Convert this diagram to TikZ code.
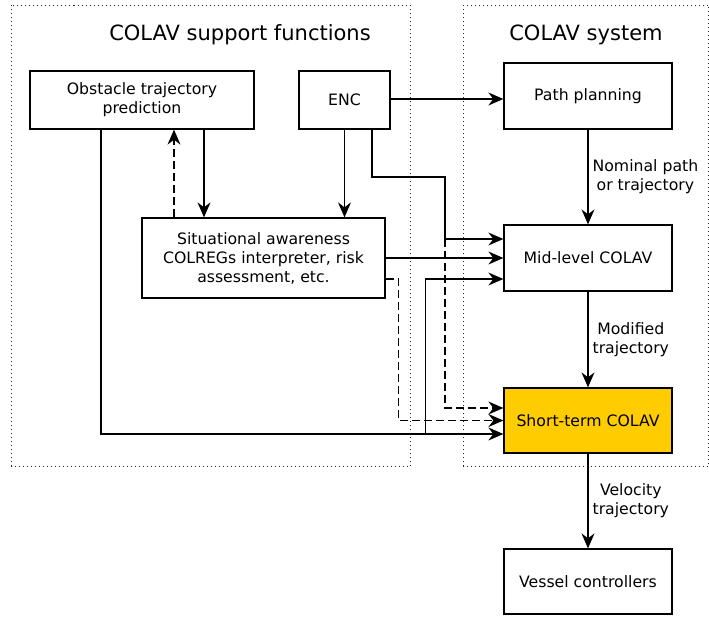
\documentclass[tikz,border=0pt]{standalone}
\usepackage{fontspec}
\setmainfont{DejaVu Sans}
\definecolor{StGold}{RGB}{255, 204, 0}
\usetikzlibrary{arrows.meta, positioning, calc}

\begin{document}
\begin{tikzpicture}[x=1pt, y=-1pt,
        box/.style={rectangle, draw=black, line width=1.3pt, fill=white, minimum width=168pt, minimum height=66pt, inner sep=2pt, align=center, font=\fontsize{15.7}{19}\selectfont},
        heading/.style={font=\fontsize{21}{25}\selectfont},
        lbl/.style={right, align=center, inner sep=4pt, font=\fontsize{15.7}{19}\selectfont},
        region/.style={draw=black!85, line width=1pt, dash pattern=on 1pt off 3pt},
        arrow/.style={->, line width=1.2pt, >={Stealth[length=15pt, width=13pt, inset=5pt]}},
        dasharrow/.style={arrow, dash pattern=on 8pt off 4pt}
    ]
        \useasboundingbox (0,0) rectangle (709,616);
        % dotted regions
        \draw[region] (11.5,5) rectangle (410,466);
        \draw[region] (463.5,5) rectangle (708.5,466);
        \node[heading] (suptitle) at (240,35) {COLAV support functions};
        \node[heading] (systitle) at (586,35) {COLAV system};
        % support functions
        \node[box, minimum width=224pt, minimum height=58pt] (obst) at (142,100) {Obstacle trajectory\\prediction};
        \node[box, minimum width=91pt, minimum height=58pt] (enc) at (344.5,100) {ENC};
        \node[box, minimum width=243pt, minimum height=80pt] (sa) at (263.5,258) {Situational awareness\\COLREGs interpreter, risk\\assessment, etc.};
        % COLAV system
        \node[box] (path) at (588,96) {Path planning};
        \node[box] (mid) at (588,258) {Mid-level COLAV};
        \node[box, fill=StGold, minimum height=65pt] (short) at (588,420.5) {Short-term COLAV};
        \node[box, minimum height=65pt] (vessel) at (588,581.5) {Vessel controllers};
        % inputs on the left side of mid-level and short-term
        \coordinate (m1) at ([yshift=19pt]mid.west);
        \coordinate (m3) at ([yshift=-21pt]mid.west);
        \coordinate (s1) at ([yshift=12.5pt]short.west);
        \coordinate (s3) at ([yshift=-13.5pt]short.west);
        \coordinate (bus) at (445,177);
        \coordinate (tap) at ($(s3)+(-78,0)$);
        \draw[arrow] (path) -- node[lbl] {Nominal path\\or trajectory} (mid);
        \draw[arrow] (mid) -- node[lbl] {Modified\\trajectory} (short);
        \draw[arrow] (short) -- node[lbl] {Velocity\\trajectory} (vessel);
        \draw[arrow] (enc.east |- 0,99) -- (path.west |- 0,99);
        \draw[arrow] ([xshift=62pt]obst.south) -- ([xshift=62pt]obst.south |- sa.north);
        \draw[dasharrow] ([xshift=-89.5pt]sa.north) -- ([xshift=-89.5pt]sa.north |- obst.south);
        \draw[arrow] (enc.south) -- (enc.south |- sa.north);
        \draw[arrow] ([xshift=27.5pt]enc.south) |- (bus) |- (m1);
        \draw[dasharrow] (bus |- m1) |- (s1);
        \draw[arrow] (sa.east) -- (sa.east -| mid.west);
        \draw[dasharrow] ([yshift=-21pt]sa.east) -- ++(13,0) |- (short.west);
        \draw[arrow] ([xshift=-41pt]obst.south) |- (s3);
        \draw[arrow] (tap) |- (m3);
    \end{tikzpicture}
\end{document}
